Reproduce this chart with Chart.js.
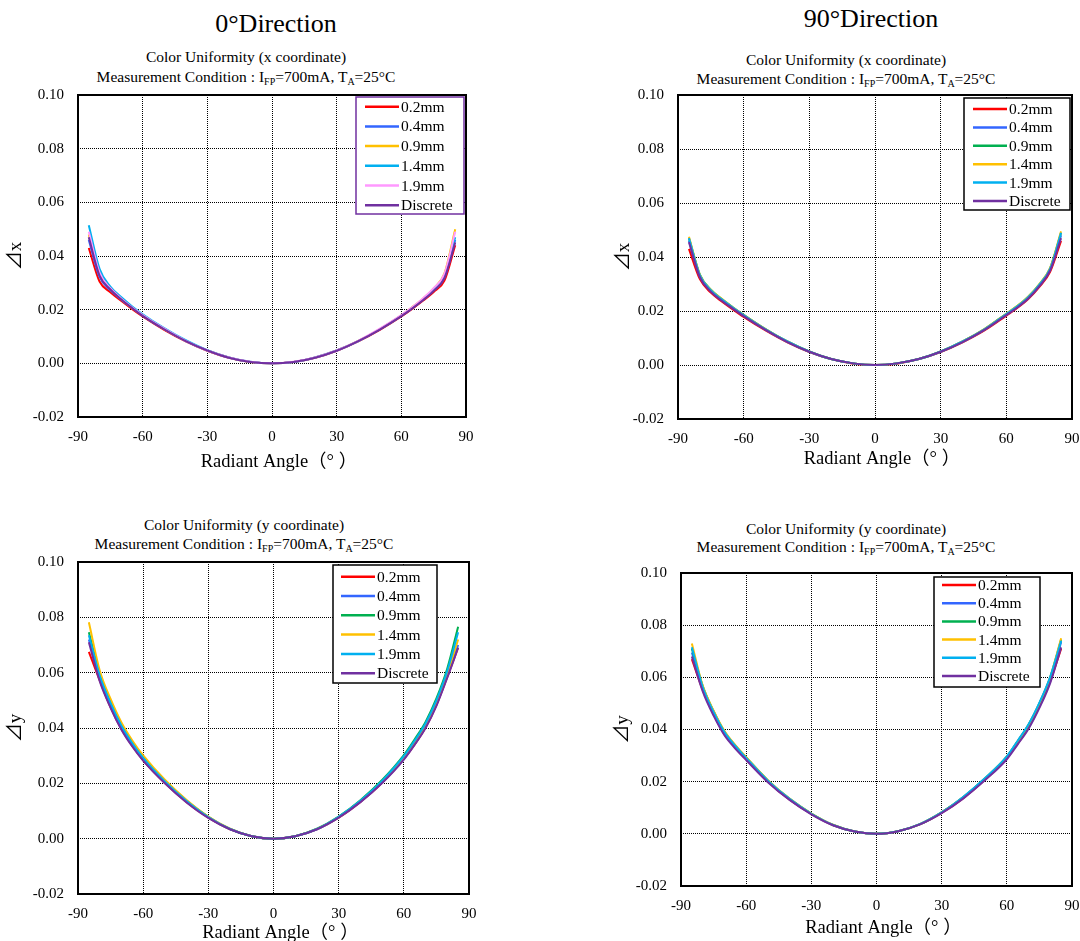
<!DOCTYPE html>
<html>
<head>
<meta charset="utf-8">
<script src="https://cdn.jsdelivr.net/npm/chart.js@4.4.1/dist/chart.umd.min.js"></script>
<style>
  html, body { margin: 0; padding: 0; background: #fff; width: 1080px; height: 941px; overflow: hidden; position: relative; }
  .t { position: absolute; font-family: 'Liberation Serif', 'Times New Roman', serif; color: #000; white-space: nowrap; transform: translate(-50%, -50%); }
  .main { font-size: 26px; }
  .sub { font-size: 15.5px; }
  sub { font-size: 10px; vertical-align: -3px; line-height: 0; }
  canvas { position: absolute; }
</style>
</head>
<body>
<div class="t main" style="left:276px;top:24px">0°Direction</div>
<div class="t main" style="left:871px;top:19px">90°Direction</div>

<div class="t sub" style="left:246px;top:57px">Color Uniformity (x coordinate)</div>
<div class="t sub" style="left:246px;top:77px">Measurement Condition : I<sub>FP</sub>=700mA, T<sub>A</sub>=25°C</div>
<div class="t sub" style="left:846px;top:60px">Color Uniformity (x coordinate)</div>
<div class="t sub" style="left:846px;top:79px">Measurement Condition : I<sub>FP</sub>=700mA, T<sub>A</sub>=25°C</div>
<div class="t sub" style="left:244px;top:525px">Color Uniformity (y coordinate)</div>
<div class="t sub" style="left:244px;top:544px">Measurement Condition : I<sub>FP</sub>=700mA, T<sub>A</sub>=25°C</div>
<div class="t sub" style="left:846px;top:529px">Color Uniformity (y coordinate)</div>
<div class="t sub" style="left:846px;top:547px">Measurement Condition : I<sub>FP</sub>=700mA, T<sub>A</sub>=25°C</div>

<canvas id="c1" width="480" height="390" style="left:0px;top:88px"></canvas>
<canvas id="c2" width="480" height="390" style="left:600px;top:88px"></canvas>
<canvas id="c3" width="480" height="400" style="left:0px;top:555px"></canvas>
<canvas id="c4" width="480" height="389" style="left:600px;top:566px"></canvas>

<script>
// radiant angles (deg)
const angles = [-85, -80, -75, -70, -65, -60, -50, -40, -30, -20, -10, 0, 10, 20, 30, 40, 50, 60, 65, 70, 75, 80, 85];
const seriesNames = ['0.2mm', '0.4mm', '0.9mm', '1.4mm', '1.9mm', 'Discrete'];
const xTicks = [-90, -60, -30, 0, 30, 60, 90];
const yTicks = [-0.02, 0.00, 0.02, 0.04, 0.06, 0.08, 0.10];

// 0° direction, delta x
const x0_02 = [0.0430, 0.0305, 0.0265, 0.0233, 0.0203, 0.0175, 0.0125, 0.0082, 0.0047, 0.0021, 0.0005, 0, 0.0005, 0.0021, 0.0047, 0.0082, 0.0125, 0.0175, 0.0203, 0.0233, 0.0266, 0.0308, 0.0440];
const x0_04 = [0.0460, 0.0322, 0.0273, 0.0238, 0.0207, 0.0178, 0.0127, 0.0083, 0.0048, 0.0022, 0.0005, 0, 0.0005, 0.0022, 0.0048, 0.0083, 0.0127, 0.0178, 0.0207, 0.0238, 0.0274, 0.0320, 0.0460];
const x0_09 = [0.0480, 0.0332, 0.0277, 0.0240, 0.0208, 0.0179, 0.0128, 0.0084, 0.0048, 0.0022, 0.0005, 0, 0.0005, 0.0022, 0.0048, 0.0084, 0.0128, 0.0179, 0.0209, 0.0241, 0.0279, 0.0335, 0.0500];
const x0_14 = [0.0515, 0.0352, 0.0286, 0.0247, 0.0213, 0.0183, 0.0131, 0.0086, 0.0049, 0.0022, 0.0006, 0, 0.0005, 0.0022, 0.0048, 0.0083, 0.0127, 0.0178, 0.0207, 0.0238, 0.0274, 0.0325, 0.0470];
const x0_19 = [0.0490, 0.0338, 0.0280, 0.0242, 0.0209, 0.0180, 0.0129, 0.0084, 0.0048, 0.0022, 0.0006, 0, 0.0006, 0.0022, 0.0048, 0.0084, 0.0129, 0.0180, 0.0209, 0.0242, 0.0280, 0.0333, 0.0490];
const x0_dis = [0.0470, 0.0327, 0.0275, 0.0239, 0.0207, 0.0177, 0.0127, 0.0083, 0.0048, 0.0021, 0.0005, 0, 0.0005, 0.0021, 0.0047, 0.0083, 0.0126, 0.0176, 0.0204, 0.0235, 0.0270, 0.0318, 0.0450];

// 90° direction, delta x
const x90_02 = [0.0430, 0.0318, 0.0268, 0.0235, 0.0206, 0.0178, 0.0128, 0.0084, 0.0048, 0.0022, 0.0005, 0, 0.0005, 0.0022, 0.0048, 0.0084, 0.0128, 0.0183, 0.0211, 0.0244, 0.0288, 0.0345, 0.0460];
const x90_04 = [0.0460, 0.0328, 0.0275, 0.0241, 0.0211, 0.0183, 0.0131, 0.0086, 0.0049, 0.0022, 0.0006, 0, 0.0006, 0.0022, 0.0049, 0.0086, 0.0131, 0.0187, 0.0215, 0.0249, 0.0294, 0.0353, 0.0480];
const x90_09 = [0.0470, 0.0335, 0.0279, 0.0244, 0.0214, 0.0186, 0.0133, 0.0087, 0.0050, 0.0022, 0.0006, 0, 0.0006, 0.0022, 0.0050, 0.0087, 0.0133, 0.0190, 0.0218, 0.0253, 0.0298, 0.0358, 0.0490];
const x90_14 = [0.0475, 0.0334, 0.0279, 0.0245, 0.0214, 0.0186, 0.0133, 0.0087, 0.0050, 0.0022, 0.0006, 0, 0.0006, 0.0022, 0.0050, 0.0087, 0.0133, 0.0190, 0.0219, 0.0253, 0.0299, 0.0360, 0.0495];
const x90_19 = [0.0470, 0.0332, 0.0277, 0.0243, 0.0213, 0.0185, 0.0132, 0.0087, 0.0050, 0.0022, 0.0006, 0, 0.0006, 0.0022, 0.0050, 0.0087, 0.0132, 0.0189, 0.0217, 0.0251, 0.0297, 0.0357, 0.0490];
const x90_dis = [0.0455, 0.0325, 0.0272, 0.0238, 0.0209, 0.0181, 0.0130, 0.0085, 0.0049, 0.0022, 0.0006, 0, 0.0006, 0.0022, 0.0049, 0.0085, 0.0130, 0.0185, 0.0213, 0.0246, 0.0291, 0.0350, 0.0470];

// 0° direction, delta y
const y0_02 = [0.0675, 0.0572, 0.0475, 0.0396, 0.0335, 0.0283, 0.0201, 0.0132, 0.0076, 0.0034, 0.0009, 0, 0.0009, 0.0034, 0.0076, 0.0133, 0.0202, 0.0288, 0.0341, 0.0402, 0.0483, 0.0585, 0.0690];
const y0_04 = [0.0720, 0.0584, 0.0485, 0.0404, 0.0342, 0.0289, 0.0205, 0.0135, 0.0077, 0.0035, 0.0009, 0, 0.0009, 0.0034, 0.0077, 0.0134, 0.0204, 0.0291, 0.0345, 0.0406, 0.0488, 0.0591, 0.0700];
const y0_09 = [0.0746, 0.0596, 0.0495, 0.0412, 0.0348, 0.0295, 0.0209, 0.0137, 0.0079, 0.0035, 0.0009, 0, 0.0009, 0.0036, 0.0080, 0.0139, 0.0212, 0.0302, 0.0359, 0.0422, 0.0507, 0.0615, 0.0766];
const y0_14 = [0.0782, 0.0608, 0.0505, 0.0420, 0.0355, 0.0301, 0.0213, 0.0140, 0.0080, 0.0036, 0.0009, 0, 0.0009, 0.0035, 0.0077, 0.0135, 0.0205, 0.0292, 0.0347, 0.0408, 0.0490, 0.0594, 0.0720];
const y0_19 = [0.0735, 0.0590, 0.0490, 0.0408, 0.0345, 0.0292, 0.0207, 0.0136, 0.0078, 0.0035, 0.0009, 0, 0.0009, 0.0035, 0.0079, 0.0137, 0.0209, 0.0298, 0.0354, 0.0416, 0.0500, 0.0606, 0.0746];
const y0_dis = [0.0710, 0.0569, 0.0473, 0.0394, 0.0333, 0.0282, 0.0200, 0.0131, 0.0075, 0.0034, 0.0009, 0, 0.0009, 0.0034, 0.0076, 0.0132, 0.0201, 0.0286, 0.0340, 0.0400, 0.0480, 0.0582, 0.0690];

// 90° direction, delta y
const y90_02 = [0.0670, 0.0552, 0.0458, 0.0382, 0.0330, 0.0286, 0.0200, 0.0131, 0.0076, 0.0033, 0.0009, 0, 0.0010, 0.0036, 0.0080, 0.0137, 0.0208, 0.0289, 0.0346, 0.0408, 0.0488, 0.0585, 0.0710];
const y90_04 = [0.0695, 0.0557, 0.0463, 0.0386, 0.0333, 0.0289, 0.0202, 0.0132, 0.0077, 0.0034, 0.0009, 0, 0.0010, 0.0037, 0.0082, 0.0140, 0.0212, 0.0295, 0.0353, 0.0416, 0.0498, 0.0597, 0.0735];
const y90_09 = [0.0710, 0.0566, 0.0470, 0.0392, 0.0338, 0.0293, 0.0205, 0.0134, 0.0078, 0.0034, 0.0009, 0, 0.0010, 0.0037, 0.0082, 0.0141, 0.0213, 0.0296, 0.0355, 0.0418, 0.0500, 0.0600, 0.0745];
const y90_14 = [0.0730, 0.0568, 0.0472, 0.0394, 0.0340, 0.0294, 0.0206, 0.0135, 0.0078, 0.0035, 0.0009, 0, 0.0010, 0.0037, 0.0082, 0.0141, 0.0213, 0.0296, 0.0355, 0.0418, 0.0500, 0.0602, 0.0750];
const y90_19 = [0.0715, 0.0563, 0.0467, 0.0390, 0.0337, 0.0291, 0.0204, 0.0134, 0.0077, 0.0034, 0.0009, 0, 0.0010, 0.0037, 0.0082, 0.0142, 0.0214, 0.0297, 0.0357, 0.0420, 0.0503, 0.0603, 0.0740];
const y90_dis = [0.0680, 0.0546, 0.0453, 0.0378, 0.0327, 0.0283, 0.0198, 0.0130, 0.0075, 0.0033, 0.0009, 0, 0.0010, 0.0036, 0.0079, 0.0136, 0.0206, 0.0286, 0.0343, 0.0403, 0.0483, 0.0579, 0.0715];

const colors0 = ['#FF0000', '#3366FF', '#FFC000', '#00B0F0', '#FF99FF', '#7030A0'];
const colors90 = ['#FF0000', '#3366FF', '#00B050', '#FFC000', '#00B0F0', '#7030A0'];

const FONT = "'Liberation Serif', 'Times New Roman', serif";
const FONT_T = "'Liberation Serif', 'Noto Sans CJK JP', serif";

// frame round the plot area + legend box inside it
const boxPlugin = {
  id: 'box',
  afterDatasetsDraw(chart, args, L) {
    const { ctx, chartArea: a } = chart;
    ctx.save();
    ctx.setLineDash([]);
    ctx.strokeStyle = '#000';
    ctx.lineWidth = 2;
    ctx.strokeRect(a.left, a.top, a.right - a.left, a.bottom - a.top);

    const bx = a.right - L.right - L.width;
    const by = a.top + L.top;
    ctx.fillStyle = '#fff';
    ctx.fillRect(bx, by, L.width, L.height);
    ctx.strokeStyle = L.border;
    ctx.lineWidth = 1.5;
    ctx.strokeRect(bx, by, L.width, L.height);

    ctx.font = '15.5px ' + FONT;
    ctx.textBaseline = 'middle';
    ctx.textAlign = 'left';
    chart.data.datasets.forEach((ds, i) => {
      const y = by + L.first + i * L.gap;
      ctx.strokeStyle = ds.borderColor;
      ctx.lineWidth = 2.5;
      ctx.beginPath();
      ctx.moveTo(bx + L.lineX, y);
      ctx.lineTo(bx + L.lineX + 34, y);
      ctx.stroke();
      ctx.fillStyle = '#000';
      ctx.fillText(ds.label, bx + L.lineX + 36, y + 1);
    });
    ctx.restore();
  }
};

function makeChart(id, series, colors, yLabel, cfg) {
  const datasets = series.map((vals, i) => ({
    label: seriesNames[i],
    data: angles.map((a, j) => ({ x: a, y: vals[j] })),
    borderColor: colors[i],
    backgroundColor: colors[i],
    borderWidth: 2,
    pointRadius: 0,
    cubicInterpolationMode: 'monotone',
    order: series.length - i
  }));

  new Chart(document.getElementById(id).getContext('2d'), {
    type: 'line',
    data: { datasets },
    plugins: [boxPlugin],
    options: {
      responsive: false,
      animation: false,
      layout: { padding: cfg.pad },
      plugins: {
        legend: { display: false },
        tooltip: { enabled: false },
        box: cfg.legend
      },
      scales: {
        x: {
          type: 'linear',
          min: -90,
          max: 90,
          afterBuildTicks: s => { s.ticks = xTicks.map(v => ({ value: v })); },
          afterFit: s => { s.height = cfg.xH; s.paddingLeft = 0; s.paddingRight = 0; },
          grid: { color: '#000', lineWidth: 1, drawTicks: false },
          border: { display: false, dash: [1, 1] },
          ticks: {
            color: '#000',
            padding: 11,
            maxRotation: 0,
            font: { family: FONT, size: 15 },
            callback: v => String(v)
          },
          title: {
            display: true,
            text: '   Radiant Angle（° ）',
            color: '#000',
            font: { family: FONT_T, size: 18.5 },
            padding: { top: 0, bottom: cfg.xTitlePad }
          }
        },
        y: {
          type: 'linear',
          min: -0.02,
          max: 0.10,
          afterBuildTicks: s => { s.ticks = yTicks.map(v => ({ value: v })); },
          afterFit: s => { s.width = cfg.yW; s.paddingTop = 0; s.paddingBottom = 0; },
          grid: { color: '#000', lineWidth: 1, drawTicks: false },
          border: { display: false, dash: [1, 1] },
          ticks: {
            color: '#000',
            padding: 14,
            font: { family: FONT, size: 15 },
            callback: v => v.toFixed(2)
          },
          title: {
            display: true,
            text: yLabel,
            color: '#000',
            font: { family: FONT_T, size: 19 },
            padding: { top: cfg.yTitlePad, bottom: 0 }
          }
        }
      }
    }
  });
}

makeChart('c1', [x0_02, x0_04, x0_09, x0_14, x0_19, x0_dis], colors0, '⊿x', {
  pad: { left: 0, top: 7, right: 14, bottom: 5 }, yW: 78, xH: 56, xTitlePad: 0, yTitlePad: 5,
  legend: { right: 2, top: 2, width: 108, height: 117, first: 9.7, gap: 19.7, lineX: 9, border: '#7030A0' }
});
makeChart('c2', [x90_02, x90_04, x90_09, x90_14, x90_19, x90_dis], colors90, '⊿x', {
  pad: { left: 0, top: 7, right: 8, bottom: 3 }, yW: 78, xH: 56, xTitlePad: 5, yTitlePad: 13,
  legend: { right: 2, top: 3, width: 106, height: 112, first: 11, gap: 18.4, lineX: 9, border: '#000' }
});
makeChart('c3', [y0_02, y0_04, y0_09, y0_14, y0_19, y0_dis], colors90, '⊿y', {
  pad: { left: 0, top: 7, right: 11, bottom: 0 }, yW: 78, xH: 61, xTitlePad: 11, yTitlePad: 5,
  legend: { right: 32, top: 3, width: 104, height: 118, first: 11.7, gap: 19.3, lineX: 8, border: '#000' }
});
makeChart('c4', [y90_02, y90_04, y90_09, y90_14, y90_19, y90_dis], colors90, '⊿y', {
  pad: { left: 0, top: 7, right: 8, bottom: 0 }, yW: 81, xH: 69, xTitlePad: 16, yTitlePad: 12,
  legend: { right: 32, top: 4, width: 106, height: 110, first: 8, gap: 18.2, lineX: 8, border: '#000' }
});
</script>
</body>
</html>
